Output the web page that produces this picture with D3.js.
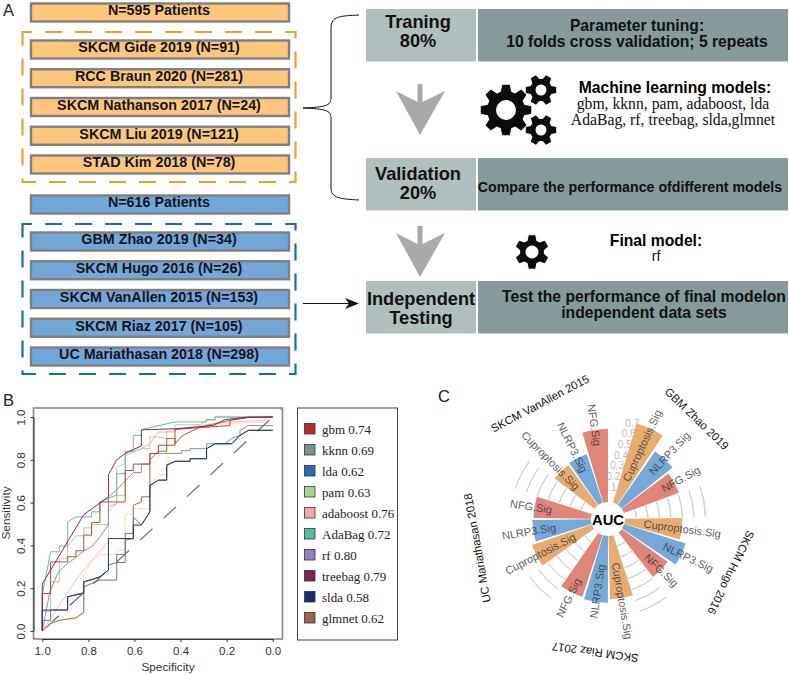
<!DOCTYPE html>
<html><head><meta charset="utf-8">
<script src="https://cdn.jsdelivr.net/npm/d3@7"></script>
<style>html,body{margin:0;padding:0;background:#fff}svg{display:block}</style>
</head><body><svg id="c" width="789" height="675" viewBox="0 0 789 675"></svg>
<script>
// ---------- data ----------
const trainStudies = ["SKCM Gide 2019 (N=91)","RCC Braun 2020 (N=281)","SKCM Nathanson 2017 (N=24)","SKCM Liu 2019 (N=121)","STAD Kim 2018 (N=78)"];
const testStudies = ["GBM Zhao 2019 (N=34)","SKCM Hugo 2016 (N=26)","SKCM VanAllen 2015 (N=153)","SKCM Riaz 2017 (N=105)","UC Mariathasan 2018 (N=298)"];
const rocTicks = [1,0.8,0.6,0.4,0.2,0];
const models = ["gbm","kknn","lda","pam","adaboost","AdaBag","rf","treebag","slda","glmnet"];
const modelAUC = ["0.74","0.69","0.62","0.63","0.76","0.72","0.80","0.79","0.58","0.62"];
const roc_rf = [[1,0],[.964,.04],[.89,.055],[.854,.055],[.82,.087],[.82,.26],[.786,.323],[.75,.358],[.677,.358],[.677,.378],[.64,.378],[.64,.544],[.605,.548],[.605,.572],[.533,.572],[.533,.68],[.496,.73],[.46,.73],[.46,.9],[.424,.892],[.424,.875],[.39,.914],[.315,.953],[.185,.97],[.033,.975],[0,1]];
const roc_glmnet = [[1,0],[.964,.036],[.926,.05],[.854,.062],[.82,.087],[.82,.207],[.786,.222],[.75,.238],[.677,.238],[.677,.358],[.64,.358],[.64,.425],[.605,.432],[.605,.588],[.57,.603],[.57,.627],[.533,.627],[.533,.8],[.496,.84],[.46,.84],[.46,.9],[.424,.9],[.424,.875],[.39,.914],[.315,.953],[.185,.985],[.105,.998],[.033,.998],[0,1]];
const roc_lda = [[1,0],[1,.05],[.964,.05],[.964,.098],[.89,.098],[.89,.16],[.82,.18],[.82,.23],[.786,.238],[.75,.253],[.713,.285],[.713,.308],[.677,.32],[.64,.32],[.64,.456],[.605,.456],[.605,.533],[.57,.495],[.533,.557],[.533,.68],[.496,.705],[.46,.705],[.46,.775],[.424,.793],[.359,.793],[.359,.805],[.287,.805],[.287,.852],[.25,.875],[.178,.875],[.142,.914],[.105,.938],[0,.938]];
const roc_kknn = [[1,0],[.967,.184],[.93,.277],[.89,.316],[.858,.34],[.82,.375],[.786,.393],[.75,.44],[.713,.495],[.713,.627],[.677,.66],[.605,.74],[.57,.74],[.57,.78],[.533,.78],[.533,.83],[.395,.83],[.395,.843],[.359,.843],[.359,.852],[.287,.852],[.287,.875],[.207,.875],[.178,.9],[.142,.914],[.142,.938],[.105,.96],[.033,.96],[0,.96]];
const roc_pam = [[1,0],[1,.09],[.964,.09],[.964,.23],[.926,.23],[.926,.34],[.89,.34],[.89,.397],[.854,.445],[.82,.445],[.82,.482],[.786,.482],[.786,.497],[.713,.497],[.713,.58],[.677,.595],[.677,.634],[.64,.634],[.64,.82],[.605,.835],[.57,.852],[.533,.852],[.533,.875],[.496,.93],[.424,.93],[.424,.964],[.315,.964],[.287,.985],[.25,.985],[.25,1],[0,1]];
const roc_adaboost = [[1,0],[.926,.12],[.854,.238],[.786,.33],[.713,.417],[.713,.557],[.677,.596],[.677,.767],[.64,.782],[.64,.83],[.57,.852],[.533,.875],[.533,.907],[.496,.907],[.46,.9],[.46,.93],[.395,.945],[.315,.96],[.185,.977],[.033,.984],[.033,1],[0,1]];
const roc_slda = [[1,0],[1,.098],[.89,.098],[.89,.16],[.82,.176],[.82,.23],[.75,.253],[.713,.285],[.713,.432],[.605,.432],[.605,.495],[.57,.495],[.533,.557],[.533,.68],[.496,.705],[.46,.705],[.46,.775],[.424,.793],[.359,.793],[.359,.805],[.287,.805],[.287,.852],[.25,.875],[.178,.875],[.142,.914],[.105,.938],[.033,.938],[0,.938]];
const roc_gbm = [[1,0],[1,.175],[.964,.175],[.964,.323],[.89,.323],[.89,.347],[.854,.347],[.854,.375],[.82,.375],[.82,.448],[.786,.448],[.786,.507],[.75,.507],[.75,.603],[.64,.603],[.64,.75],[.605,.75],[.605,.78],[.533,.78],[.533,.829],[.496,.829],[.496,.868],[.424,.868],[.424,.942],[.185,.96],[.185,.985],[.105,.998],[.033,.998],[.033,1],[0,1]];
const roc_AdaBag = [[1,0],[1,.17],[.964,.37],[.926,.37],[.926,.397],[.89,.397],[.89,.51],[.854,.533],[.786,.533],[.786,.557],[.75,.557],[.75,.603],[.713,.62],[.677,.635],[.677,.735],[.64,.735],[.64,.84],[.605,.84],[.605,.914],[.57,.914],[.57,.94],[.533,.95],[.424,.977],[.287,.977],[.287,.988],[.25,.988],[.25,1],[0,1]];
const roc_treebag = [[1,0],[1,.22],[.82,.544],[.713,.627],[.713,.73],[.677,.8],[.64,.83],[.57,.865],[.57,.94],[.424,.945],[.258,.96],[.207,.988],[.105,1],[0,1]];
const datasets = ["GBM Zhao 2019","SKCM Hugo 2016","SKCM Riaz 2017","UC Mariathasan 2018","SKCM VanAllen 2015"];
const sigNames = ["Cuproptosis.Sig","NLRP3.Sig","NFG.Sig"];
const aucCuproptosis = [0.72,0.50,0.55,0.55,0.435];
const aucNLRP3 = [0.57,0.56,0.58,0.51,0.445];
const aucNFG = [0.51,0.49,0.565,0.50,0.635];
const aucTicks = [0.1,0.2,0.3,0.4,0.5,0.6,0.7];

// ---------- helpers ----------
const svg = d3.select("#c");
const SANS="'Liberation Sans',Arial,sans-serif", SERIF="'Liberation Serif','Times New Roman',serif";
function label(g,x,y,s,o={}){
  return g.append("text").attr("x",x).attr("y",y).text(s)
    .attr("text-anchor",o.a||"middle").attr("font-size",o.fs||14)
    .attr("font-weight",o.w||"normal").attr("fill",o.c||"#111")
    .attr("font-family",o.f||SANS);
}
["A","B","C"].forEach((s,i)=>label(svg,[3,3,438][i],[16,406,402][i],s,{a:"start",fs:16.5,c:"#222"}));

// ---------- panel A ----------
const A = svg.append("g");
const ORANGE="#fcc77c", BLUE="#74a7d9", BOXLINE="#7f7f7f";
function box(y,h,fill,s){
  A.append("rect").attr("x",31).attr("y",y).attr("width",258).attr("height",h)
    .attr("fill",fill).attr("stroke",BOXLINE).attr("stroke-width",2.4);
  label(A,159,y+11.8,s,{w:"bold",fs:14.3,c:"#14141e"});
}
box(3.5,18,ORANGE,"N=595 Patients");
const orangeY=d3.scalePoint().domain(trainStudies).range([40.5,155.5]);
trainStudies.forEach(s=>box(orangeY(s),18,ORANGE,s));
box(195.5,18,BLUE,"N=616 Patients");
const blueY=d3.scalePoint().domain(testStudies).range([232.5,347.5]);
testStudies.forEach(s=>box(blueY(s),18,BLUE,s));
function dashBox(y0,y1,c){
  A.append("rect").attr("x",22.5).attr("y",y0).attr("width",273).attr("height",y1-y0)
   .attr("fill","none").attr("stroke",c).attr("stroke-width",2.2).attr("stroke-dasharray","17 13").attr("stroke-dashoffset",7.5);
}
dashBox(32,182,"#f0a028"); dashBox(224,374,"#1c6cb0");
A.append("path").attr("d","M359,15 C340,16 331,16 331,28 L331,98 C331,106 325,107 303,108 C325,109 331,110 331,118 L331,188 C331,198 340,199 359,200")
 .attr("fill","none").attr("stroke","#111").attr("stroke-width",1);
A.append("line").attr("x1",303).attr("x2",352).attr("y1",303.5).attr("y2",303.5).attr("stroke","#111").attr("stroke-width",1);
A.append("path").attr("d","M359,303.5 L345,298 L349,303.5 L345,309 Z").attr("fill","#111");

const rows=[[9,"Traning","80%",28,46.5],[158,"Validation","20%",180,198.5],[281,"Independent","Testing",305,323.5]];
rows.forEach(r=>{
  A.append("rect").attr("x",366).attr("y",r[0]).attr("width",110).attr("height",52.5).attr("fill","#b0bebe");
  A.append("rect").attr("x",478).attr("y",r[0]).attr("width",310).attr("height",52.5).attr("fill","#86999b");
  label(A,r[1]==="Independent"?421:418,r[3],r[1],{w:"bold",fs:18.2});
  label(A,r[1]==="Independent"?421:418,r[4],r[2],{w:"bold",fs:18.2});
});
label(A,637,31,"Parameter tuning:",{w:"bold",fs:15.7});
label(A,637,47,"10 folds cross validation; 5 repeats",{w:"bold",fs:15.7});
label(A,630,191.5,"Compare the performance ofdifferent models",{w:"bold",fs:14.2});
label(A,644,302,"Test the performance of final modelon",{w:"bold",fs:15.7});
label(A,644,318,"independent data sets",{w:"bold",fs:15.7});
label(A,675,93,"Machine learning models:",{w:"bold",fs:15.7,c:"#000"});
label(A,673,109,"gbm, kknn, pam, adaboost, lda",{fs:15.7,f:SERIF});
label(A,673,125,"AdaBag, rf, treebag, slda,glmnet",{fs:15.7,f:SERIF});
label(A,656,246,"Final model:",{w:"bold",fs:15.7,c:"#000"});
label(A,656,261,"rf",{fs:14});

function bigArrow(t){
  A.append("path").attr("d",`M417.5,${t} L422.5,${t} L422.5,${t+18} L445,${t+7} L420,${t+51} L396,${t+7} L417.5,${t+18} Z`).attr("fill","#a9a9a9");
}
bigArrow(84); bigArrow(226);
function gear(cx,cy,R,r,hole,n,spin){
  const p=d3.path(), st=2*Math.PI/n, pts=[];
  for(let i=0;i<n;i++){
    const a=i*st-Math.PI/2+(spin||0)*Math.PI/180;
    [[-.5,r],[-.3,R],[.3,R],[.5,r]].forEach(q=>{
      const b=a+q[0]*st*.62*(q[1]===R?1:1.15);
      pts.push([cx+q[1]*Math.cos(b),cy+q[1]*Math.sin(b)]);
    });
  }
  pts.forEach((q,i)=>i?p.lineTo(q[0],q[1]):p.moveTo(q[0],q[1])); p.closePath();
  p.moveTo(cx+hole,cy); p.arc(cx,cy,hole,0,2*Math.PI,true);
  A.append("path").attr("d",p.toString()).attr("fill","#0c0a0a").attr("fill-rule","evenodd");
}
gear(506,110,25.5,19,10,8,0); gear(541,90,15.5,11,5.5,6,30); gear(541,130,15.5,11,5.5,6,30); gear(532,252,17,12,6.5,6,0);

// ---------- panel B ----------
const B = svg.append("g");
const bx = d3.scaleLinear().domain([1,0]).range([42.3,272.7]);
const by = d3.scaleLinear().domain([0,1]).range([631,417]);
const frame={x0:33.5,x1:282.5,y0:408,y1:639};
const clipId="rocclip";
B.append("clipPath").attr("id",clipId).append("rect").attr("x",frame.x0).attr("y",frame.y0).attr("width",frame.x1-frame.x0).attr("height",frame.y1-frame.y0);
const plot=B.append("g").attr("clip-path",`url(#${clipId})`);
plot.append("line").attr("x1",bx(1.08)).attr("y1",by(-.08)).attr("x2",bx(-.08)).attr("y2",by(1.08))
  .attr("stroke","#6b6b6b").attr("stroke-width",1.2).attr("stroke-dasharray","17 15").attr("stroke-dashoffset",1.4);
const lineColors={gbm:"#c23b3a",kknn:"#7d9094",lda:"#4a78b8",pam:"#a9d295",adaboost:"#f7b9ba",AdaBag:"#55baa6",rf:"#f9dfa6",treebag:"#7f1f5f",slda:"#1c2c6b",glmnet:"#96654f"};
const swatchColors={...lineColors,lda:"#2b68b8",rf:"#9580c2",gbm:"#b82a2a",adaboost:"#f5a8ab"};
const rocs={gbm:roc_gbm,kknn:roc_kknn,lda:roc_lda,pam:roc_pam,adaboost:roc_adaboost,AdaBag:roc_AdaBag,rf:roc_rf,treebag:roc_treebag,slda:roc_slda,glmnet:roc_glmnet};
const rocLine=d3.line().x(d=>bx(d[0])).y(d=>by(d[1]));
["rf","adaboost","pam","glmnet","lda","kknn","AdaBag","gbm","slda","treebag"].forEach(m=>{
  plot.append("path").attr("d",rocLine(rocs[m])).attr("fill","none").attr("stroke",lineColors[m]).attr("stroke-width",.95);
});
B.append("rect").attr("x",frame.x0).attr("y",frame.y0).attr("width",frame.x1-frame.x0).attr("height",frame.y1-frame.y0)
  .attr("fill","none").attr("stroke","#8a8a8a").attr("stroke-width",1.6);
const xa=B.append("g").attr("transform",`translate(0,${frame.y1})`).call(d3.axisBottom(bx).tickValues(rocTicks).tickFormat(d3.format(".1f")).tickSize(3).tickSizeOuter(0).tickPadding(5));
const ya=B.append("g").attr("transform",`translate(${frame.x0},0)`).call(d3.axisLeft(by).tickValues(rocTicks).tickFormat(d3.format(".1f")).tickSize(3).tickSizeOuter(0).tickPadding(5));
[xa,ya].forEach(a=>{a.select(".domain").attr("stroke","#333").attr("stroke-width",1);a.selectAll("line").attr("stroke","#333");a.selectAll("text").attr("font-size",11.5).attr("fill","#333").attr("font-family",SANS);});
ya.selectAll("text").attr("x",0).attr("y",0).attr("dy",0).attr("text-anchor","middle").attr("transform","translate(-8.5,0) rotate(-90)");
label(B,168,671,"Specificity",{fs:11.8,c:"#333"});
label(B,0,0,"Sensitivity",{fs:11.8,c:"#333"}).attr("transform","translate(10,513) rotate(-90)");

// legend
const L = svg.append("g");
L.append("rect").attr("x",297.5).attr("y",408).attr("width",100).attr("height",232).attr("fill","#fff").attr("stroke","#444").attr("stroke-width",1);
const ly=d3.scalePoint().domain(models).range([428.5,617.5]);
models.forEach((m,i)=>{
  L.append("rect").attr("x",304.5).attr("y",ly(m)-5).attr("width",10.5).attr("height",10.5).attr("fill",swatchColors[m]).attr("stroke","#333").attr("stroke-width",.8);
  label(L,322,ly(m)+5,`${m} ${modelAUC[i]}`,{a:"start",fs:13,f:SERIF,c:"#222"});
});

// ---------- panel C ----------
const C = svg.append("g").attr("transform","translate(608,519)");
const rr = d3.scaleLinear().domain([0,0.7]).range([17,97.5]);
const STEP=18.15, START=25, BAR=16.6, TITLE_STEP=18;
const rad=d=>d*Math.PI/180;
const sigColor={"Cuproptosis.Sig":"#e8ac70","NLRP3.Sig":"#74a9d9","NFG.Sig":"#e0857a"};
const values={"Cuproptosis.Sig":aucCuproptosis,"NLRP3.Sig":aucNLRP3,"NFG.Sig":aucNFG};
// text mid-points along each spoke (drawing layout only)
const labelMidPx={"Cuproptosis.Sig":[81,75,83,76,82],"NLRP3.Sig":[90,89,73,80,80],"NFG.Sig":[83,74,88,78,95]};
const arc=d3.arc();
const pol=(b,r)=>[r*Math.sin(rad(b)),-r*Math.cos(rad(b))];
datasets.forEach((d,g)=>{
  if(g===4) return;
  const c=START+STEP*(4*g+3);
  aucTicks.forEach(t=>{
    C.append("path").attr("d",arc({innerRadius:rr(t),outerRadius:rr(t),startAngle:rad(c-9),endAngle:rad(c+9)}))
     .attr("fill","none").attr("stroke","#c9ced8").attr("stroke-width",1);
  });
});
aucTicks.forEach(t=>{
  const f=(t-0.1)/0.6, x=1.7+f*22.6, y=-32-f*64;
  label(C,x,y+3.5,d3.format(".1f")(t),{fs:10,c:"#bdbdbd"});
});
datasets.forEach((d,g)=>{
  sigNames.forEach((s,k)=>{
    const b=START+STEP*(4*g+k);
    C.append("path").attr("d",arc({innerRadius:rr(0),outerRadius:rr(values[s][g]),startAngle:rad(b-BAR/2),endAngle:rad(b+BAR/2)})).attr("fill",sigColor[s]);
  });
});
datasets.forEach((d,g)=>{
  sigNames.forEach((s,k)=>{
    const b=START+STEP*(4*g+k), p=pol(b,labelMidPx[s][g]);
    const rot=b<180?b-90:b+90;
    label(C,0,0,s,{fs:11,c:"#333"}).attr("fill-opacity",.82).attr("transform",`translate(${p[0]},${p[1]}) rotate(${rot})`).attr("dy","0.35em");
  });
  const b=START+TITLE_STEP*(4*g+1)-1.5, p=pol(b,134);
  label(C,0,0,d,{fs:11.4,c:"#111"}).attr("dy","0.35em").attr("transform",`translate(${p[0]},${p[1]}) rotate(${b+2.5})`);
});
C.append("circle").attr("r",16).attr("fill","#fff");
label(C,0,5.5,"AUC",{w:"bold",fs:14.8,c:"#000"});
</script></body></html>
